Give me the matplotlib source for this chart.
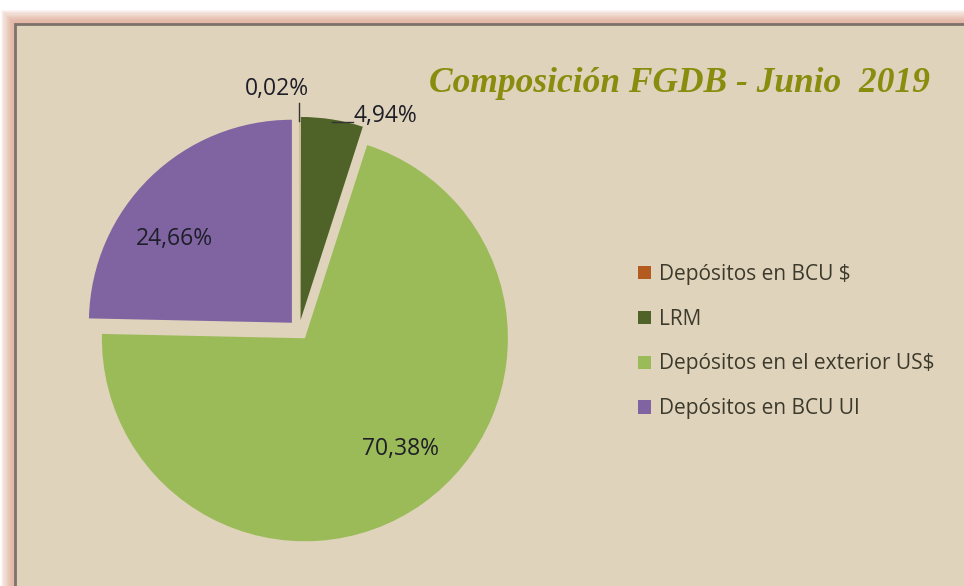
import numpy as np
import matplotlib
matplotlib.use("Agg")
import matplotlib.pyplot as plt
from matplotlib.patches import Rectangle

# Datos
categorias = ["Depósitos en BCU $", "LRM", "Depósitos en el exterior US$", "Depósitos en BCU UI"]
valores = [0.02, 4.94, 70.38, 24.66]
etiquetas = ["0,02%", "4,94%", "70,38%", "24,66%"]
colores = ["#b35a1f", "#4f6228", "#9bbb59", "#8064a2"]
titulo = "Composición FGDB - Junio  2019"

W, H = 964, 586
fig = plt.figure(figsize=(W / 100, H / 100), dpi=100)
fig.patch.set_facecolor("white")

# marco con resplandor
for i in range(12):
    g = 14 - i * 1.15
    fig.patches.append(Rectangle(((15 - g) / W, -0.05), 1.2, (H - 24 + g) / H + 0.05,
                                 transform=fig.transFigure, facecolor="#d8957a",
                                 alpha=0.09, edgecolor="none", zorder=-3))
fig.patches.append(Rectangle((15 / W, -0.05), 1.2, (H - 24) / H + 0.05,
                             transform=fig.transFigure, facecolor="#dfd3bb",
                             edgecolor="#7d736a", linewidth=2, zorder=-2))

# torta
R = 203
cx, cy = 299, 330
side = 2.5 * R
ax = fig.add_axes([(cx - side / 2) / W, (H - cy - side / 2) / H, side / W, side / H])
ax.set_xlim(-1.25, 1.25)
ax.set_ylim(-1.25, 1.25)
ax.set_aspect("equal")
ax.axis("off")

wedges, _ = ax.pie(valores, colors=colores, startangle=90, counterclock=False,
                   explode=[0.05] * 4, radius=1.0,
                   wedgeprops=dict(linewidth=0))

txt = dict(fontsize=16.5, color="#1e1e28", family="Open Sans")

def centro(w):
    return np.array(w.center)

def dir_ang(deg):
    r = np.deg2rad(deg)
    return np.array([np.cos(r), np.sin(r)])

# 0,02% - linea vertical
w = wedges[0]
m = (w.theta1 + w.theta2) / 2
p = centro(w) + dir_ang(m) * 1.0
ax.plot([p[0], p[0]], [p[1] - 0.02, p[1] + 0.07], color="#333333", lw=1)
ax.text(p[0] - 0.11, p[1] + 0.135, etiquetas[0], ha="center", va="center", **txt)

# 4,94% - linea horizontal
w = wedges[1]
m = (w.theta1 + w.theta2) / 2
p = centro(w) + dir_ang(m) * 0.985
ax.plot([p[0], p[0] + 0.105], [p[1], p[1]], color="#333333", lw=1)
ax.text(p[0] + 0.105, p[1] + 0.03, etiquetas[1], ha="left", va="center", **txt)

# 70,38% y 24,66% dentro
for i, d, da in [(2, 0.72, 5.5), (3, 0.71, 10)]:
    w = wedges[i]
    m = (w.theta1 + w.theta2) / 2 + da
    p = centro(w) + dir_ang(m) * d
    ax.text(p[0], p[1], etiquetas[i], ha="center", va="center", **txt)

fig.text(0.7046, 1 - 92 / H, titulo, ha="center", va="baseline", fontsize=25.5,
         family="Liberation Serif", style="italic", weight="bold", color="#8a8c0e")

leg = fig.legend(wedges, categorias, loc="center left",
                 bbox_to_anchor=(638 / W, 1 - 341.5 / H), frameon=False,
                 borderaxespad=0, borderpad=0, handlelength=0.6, handleheight=0.6,
                 handletextpad=0.4, labelspacing=1.15,
                 prop=dict(family="Open Sans", size=15))
for t in leg.get_texts():
    t.set_color("#3d3a2c")

fig.savefig("out.png", dpi=100, facecolor=fig.get_facecolor())
